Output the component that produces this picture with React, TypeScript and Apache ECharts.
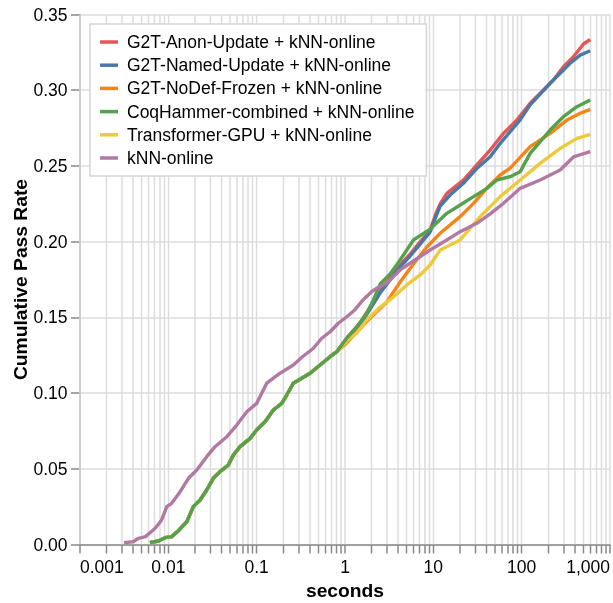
import React, { useEffect, useRef } from "react";
import * as echarts from "echarts";

// ---- Data ----
const seriesNames = [
  "G2T-Anon-Update + kNN-online",
  "G2T-Named-Update + kNN-online",
  "G2T-NoDef-Frozen + kNN-online",
  "CoqHammer-combined + kNN-online",
  "Transformer-GPU + kNN-online",
  "kNN-online",
];
const seriesColors = ["#e45756", "#4c78a8", "#f58518", "#54a24b", "#eeca3b", "#b279a2"];

// shared early part of the combined curves (seconds, rate)
const combinedEarly: [number, number][] = [
  [0.0062, 0.0012], [0.0077, 0.0023], [0.0092, 0.0045], [0.0109, 0.0052], [0.013, 0.0091],
  [0.0162, 0.0151], [0.0192, 0.025], [0.0229, 0.0294], [0.0272, 0.036], [0.0323, 0.0437],
  [0.0385, 0.0481], [0.0478, 0.0525], [0.0545, 0.0591], [0.0649, 0.0646], [0.0842, 0.0701],
  [0.1, 0.0756], [0.1245, 0.0811], [0.1546, 0.0888], [0.1925, 0.0932], [0.219, 0.0987],
  [0.26, 0.1065], [0.31, 0.1091], [0.403, 0.1131], [0.522, 0.1185], [0.678, 0.124], [0.807, 0.1273],
];

const anonLate: [number, number][] = [
  [1.048, 0.1364], [1.483, 0.1463], [1.925, 0.1568], [2.498, 0.1674], [3.242, 0.176], [4.207, 0.1846],
  [5.46, 0.1918], [7.09, 0.1998], [9.2, 0.2077], [10.76, 0.2189], [11.94, 0.2249], [14.22, 0.2319],
  [21.9, 0.2407], [33.9, 0.2532], [44.0, 0.2605], [62.2, 0.2715], [88.2, 0.2803], [124.8, 0.2914],
  [176.6, 0.3001], [229, 0.3067], [297, 0.3155], [386, 0.3221], [501, 0.3305], [597, 0.3335],
];
const namedLate: [number, number][] = [
  [1.048, 0.1357], [1.483, 0.145], [1.925, 0.1555], [2.498, 0.1661], [3.242, 0.1747], [4.207, 0.1833],
  [5.46, 0.1905], [7.09, 0.1984], [9.2, 0.2064], [10.76, 0.2169], [11.94, 0.2235], [15.5, 0.2308],
  [21.9, 0.2385], [31.1, 0.2484], [44.0, 0.2561], [57.1, 0.2649], [74.1, 0.2726], [96.2, 0.2804],
  [124.8, 0.2903], [210, 0.3046], [273, 0.3112], [354, 0.3178], [460, 0.3232], [597, 0.3261],
];
const nodefLate: [number, number][] = [
  [1.048, 0.1331], [1.36, 0.1403], [1.925, 0.1496], [2.974, 0.1601], [4.207, 0.1733], [5.95, 0.1852],
  [8.44, 0.1965], [11.94, 0.2055], [20.12, 0.2165], [28.5, 0.2253], [40.4, 0.2354], [57.1, 0.244],
  [74.1, 0.2486], [124.8, 0.2627], [210, 0.2715], [325, 0.2803], [460, 0.2848], [597, 0.2873],
];
const coqLate: [number, number][] = [
  [1.048, 0.1362], [1.36, 0.1438], [1.766, 0.1527], [2.098, 0.1615], [2.498, 0.172], [3.242, 0.1786],
  [4.207, 0.1879], [5.95, 0.2011], [9.2, 0.2083], [14.22, 0.2187], [20.12, 0.2242], [28.5, 0.2297],
  [40.4, 0.2352], [52.4, 0.2407], [74.1, 0.2429], [96.2, 0.2462], [124.8, 0.2583], [210, 0.2737],
  [297, 0.2825], [422, 0.2891], [597, 0.2935],
];
const transformerLate: [number, number][] = [
  [1.048, 0.1344], [1.36, 0.1397], [1.766, 0.1483], [2.498, 0.1568], [3.533, 0.1634], [5.01, 0.1714],
  [7.09, 0.178], [9.2, 0.1846], [11.94, 0.1945], [20.12, 0.2011], [33.9, 0.2165], [57.1, 0.2297],
  [96.2, 0.2407], [162, 0.2517], [273, 0.2616], [422, 0.2682], [597, 0.2708],
];
const knnOnline: [number, number][] = [
  [0.00315, 0.0012], [0.004, 0.0018], [0.0046, 0.0041], [0.0055, 0.0052], [0.0062, 0.0078],
  [0.0071, 0.0107], [0.0084, 0.0162], [0.0096, 0.025], [0.0109, 0.0272], [0.0136, 0.0349],
  [0.0169, 0.0437], [0.021, 0.0492], [0.0272, 0.058], [0.0338, 0.0646], [0.0459, 0.0712],
  [0.0595, 0.0789], [0.0773, 0.0877], [0.1, 0.0932], [0.13, 0.1065], [0.184, 0.1131],
  [0.26, 0.1185], [0.33, 0.124], [0.439, 0.1296], [0.546, 0.1362], [0.678, 0.1405], [0.84, 0.1461],
  [1.048, 0.1504], [1.29, 0.1549], [1.6, 0.1615], [2.0, 0.1669], [2.29, 0.1692], [2.97, 0.1727],
  [4.21, 0.1813], [5.95, 0.1872], [9.2, 0.1945], [14.2, 0.2011], [20.1, 0.2066], [31.1, 0.2121],
  [44, 0.2183], [62.2, 0.2253], [96.2, 0.2352], [162, 0.2407], [273, 0.2473], [386, 0.2559],
  [597, 0.2594],
];

const xTickDecades = [0.001, 0.01, 0.1, 1, 10, 100];
const xTickMultipliers = [1, 2, 3, 4, 5, 6, 7, 8, 9];
const xMin = 0.001;
const xMax = 1000;
const yTicks = [0, 0.05, 0.1, 0.15, 0.2, 0.25, 0.3, 0.35];

const FONT = "'Liberation Sans', Arial, Helvetica, sans-serif";

export default function App() {
  const ref = useRef<HTMLDivElement>(null);
  useEffect(() => {
    if (!ref.current) return;
    const chart = echarts.init(ref.current, null, { renderer: "svg" });

    const gridValues: number[] = [];
    xTickDecades.forEach((d) => xTickMultipliers.forEach((m) => gridValues.push(Number((d * m).toPrecision(6)))));
    gridValues.push(xMax);

    const seriesData: [number, number][][] = [
      [...combinedEarly, ...anonLate],
      [...combinedEarly, ...namedLate],
      [...combinedEarly, ...nodefLate],
      [...combinedEarly, ...coqLate],
      [...combinedEarly, ...transformerLate],
      knnOnline,
    ];
    // drawing order: green (CoqHammer) above the others that share its early path
    const drawOrder = [0, 1, 2, 4, 3, 5];

    const fmtX = (v: number) => {
      const r = Number(v.toPrecision(4));
      return r >= 1000 ? r.toLocaleString("en-US") : String(r);
    };

    chart.setOption({
      animation: false,
      textStyle: { fontFamily: FONT },
      grid: { left: 80, right: 3, top: 14.5, bottom: 58.5, containLabel: false, outerBoundsMode: "none" },
      legend: {
        data: seriesNames,
        orient: "vertical",
        left: 90,
        top: 24,
        padding: [8, 12, 8, 10],
        itemWidth: 18,
        itemHeight: 3.5,
        itemGap: 3.2,
        icon: "rect",
        backgroundColor: "#ffffff",
        borderColor: "#d5d5d5",
        borderWidth: 1.5,
        textStyle: { fontSize: 17.5, color: "#000", fontFamily: FONT, lineHeight: 20, padding: [0, 0, 0, 4] },
      },
      xAxis: {
        type: "log",
        logBase: 10,
        min: xMin,
        max: xMax,
        splitNumber: 6,
        name: "seconds",
        nameLocation: "middle",
        nameGap: 36,
        nameMoveOverlap: false,
        nameTextStyle: { fontSize: 19.25, fontWeight: "bold", color: "#000", fontFamily: FONT },
        axisLine: { lineStyle: { color: "#888", width: 1.5 } },
        axisTick: { show: false },
        splitLine: { show: false },
        axisLabel: {
          fontSize: 17.5,
          color: "#000",
          margin: 13,
          fontFamily: FONT,
          formatter: fmtX,
          alignMinLabel: "left",
          alignMaxLabel: "right",
        },
      },
      yAxis: {
        type: "value",
        min: yTicks[0],
        max: yTicks[yTicks.length - 1],
        interval: 0.05,
        name: "Cumulative Pass Rate",
        nameLocation: "middle",
        nameGap: 50,
        nameMoveOverlap: false,
        nameTextStyle: { fontSize: 19.25, fontWeight: "bold", color: "#000", fontFamily: FONT },
        axisLine: { show: true, lineStyle: { color: "#888", width: 1.5 } },
        axisTick: { show: true, length: 9, lineStyle: { color: "#888", width: 1.5 } },
        splitLine: { show: true, lineStyle: { color: "#ddd", width: 1.5 } },
        axisLabel: {
          fontSize: 17.5,
          color: "#000",
          margin: 12.5,
          fontFamily: FONT,
          formatter: (v: number) => v.toFixed(2),
        },
      },
      series: [
        {
          type: "custom",
          name: "xgrid",
          silent: true,
          clip: false,
          z: 1,
          data: gridValues.map((v) => [v, 0]),
          encode: { x: 0, y: 1 },
          renderItem: (params: any, api: any) => {
            const pt = api.coord([api.value(0), 0]);
            const cs = params.coordSys;
            const x = Math.round(pt[0] * 2) / 2;
            return {
              type: "group",
              children: [
                {
                  type: "line",
                  shape: { x1: x, y1: cs.y, x2: x, y2: cs.y + cs.height },
                  style: { stroke: "#ddd", lineWidth: 1.5 },
                },
                {
                  type: "line",
                  shape: { x1: x, y1: cs.y + cs.height, x2: x, y2: cs.y + cs.height + 9 },
                  style: { stroke: "#888", lineWidth: 1.5 },
                },
              ],
            };
          },
        },
        ...drawOrder.map((i) => ({
          type: "line",
          name: seriesNames[i],
          data: seriesData[i],
          showSymbol: false,
          symbol: "none",
          z: 2,
          lineStyle: { color: seriesColors[i], width: 3.4, join: "round" },
          itemStyle: { color: seriesColors[i] },
          emphasis: { disabled: true },
        })),
      ],
    });
    return () => chart.dispose();
  }, []);
  return <div ref={ref} style={{ position: "fixed", left: 0, top: 0, width: 613, height: 603 }} />;
}
